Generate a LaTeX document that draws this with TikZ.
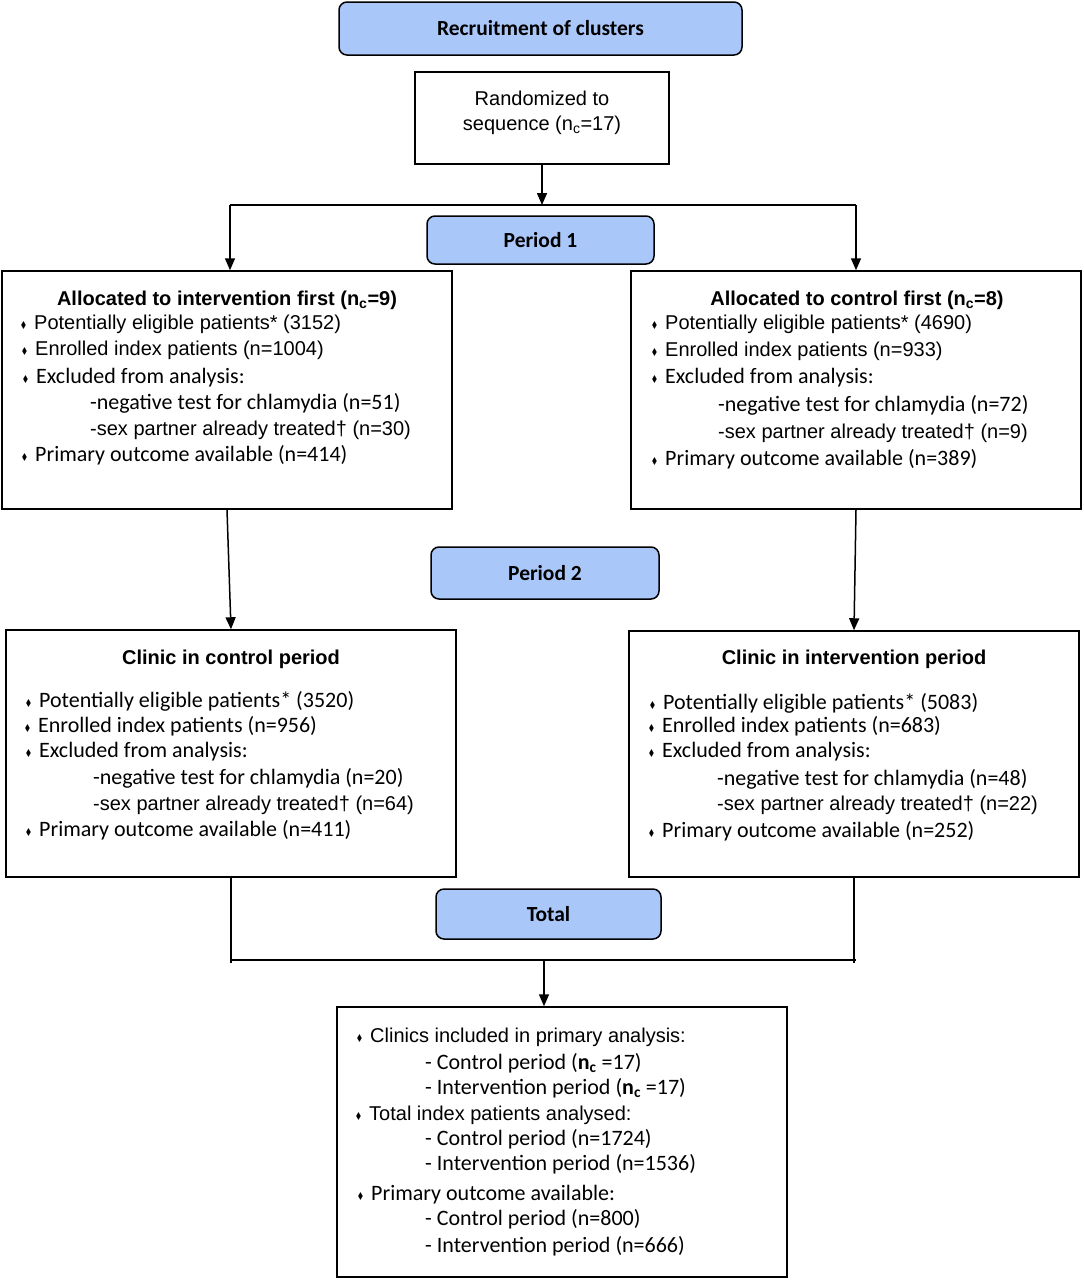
\documentclass[tikz,border=0pt]{standalone}
\usepackage{fontspec}
\setmainfont{Liberation Sans}
\newfontfamily\fArial{Liberation Sans}
\newfontfamily\fCal{Carlito}
\newfontfamily\fDV{DejaVu Sans}
\usetikzlibrary{arrows.meta}
\definecolor{pillblue}{RGB}{170,199,250}
\newcommand{\AR}{\fArial\fontsize{20}{24}\selectfont}
\newcommand{\CA}{\fCal\fontsize{22}{26}\selectfont}
\newcommand{\bul}{\llap{\scalebox{0.75}[1]{\fDV\fontsize{11}{11}\selectfont ♦}\hspace{7pt}}}
\tikzset{
  box/.style={draw, line width=1.5pt, inner sep=0pt},
  pill/.style={draw, line width=1.5pt, rounded corners=8pt, fill=pillblue, inner sep=0pt,
    font=\fCal\bfseries\fontsize{21.5}{24}\selectfont},
  hd/.style={anchor=mid, inner sep=0pt, yshift=-5pt, font=\fArial\bfseries\fontsize{20}{24}\selectfont},
  ar/.style={anchor=mid west, inner sep=0pt, yshift=-5pt, font=\AR},
  arc/.style={anchor=mid, inner sep=0pt, yshift=-5pt, font=\AR},
  ca/.style={anchor=mid west, inner sep=0pt, yshift=-5pt, font=\CA},
  ln/.style={line width=1.5pt},
  arr/.style={line width=1.5pt, -{Triangle[length=12pt,width=10pt]}}
}
\begin{document}
\begin{tikzpicture}[x=1pt,y=-1pt]
\useasboundingbox (0,0) rectangle (1084,1280);
% boxes
\node[pill, minimum width=403pt, minimum height=53pt] (rec) at (540.5,28.5) {Recruitment of clusters};
\node[box, minimum width=254pt, minimum height=92pt] (rand) at (542,118) {};
\node[arc] (r1) at (542,98) {Randomized to};
\node[arc] (r2) at (542,123) {sequence (n\textsubscript{c}=17)};
\node[pill, minimum width=227pt, minimum height=48pt] (p1) at (540.5,240) {Period 1};
\node[box, minimum width=450pt, minimum height=238pt] (b1L) at (227,390) {};
\node[box, minimum width=450pt, minimum height=238pt] (b1R) at (856,390) {};
\node[pill, minimum width=228pt, minimum height=52pt] (p2) at (545,573) {Period 2};
\node[box, minimum width=450pt, minimum height=247pt] (b2L) at (231,753.5) {};
\node[box, minimum width=450pt, minimum height=246pt] (b2R) at (854,754) {};
\node[pill, minimum width=225pt, minimum height=50pt] (tot) at (548.5,914) {Total};
\node[box, minimum width=450pt, minimum height=270pt] (bot) at (562,1142) {};

% left box 1
\node[hd] (h1L) at (227,298) {Allocated to intervention first (n\textsubscript{c}=9)};
\node[ar] (a1) at (34,322) {\bul Potentially eligible patients* (3152)};
\node[ar] (a2) at (35,348) {\bul Enrolled index patients (n=1004)};
\node[ca] (a3) at (36,376) {\bul Excluded from analysis:};
\node[ca] (a4) at (90,402) {-negative test for chlamydia (n=51)};
\node[ar] (a5) at (90,428) {-sex partner already treated† (n=30)};
\node[ca] (a6) at (35,454) {\bul Primary outcome available (n=414)};

% right box 1
\node[hd] (h1R) at (857,298) {Allocated to control first (n\textsubscript{c}=8)};
\node[ar] (c1) at (665,322) {\bul Potentially eligible patients* (4690)};
\node[ar] (c2) at (665,349) {\bul Enrolled index patients (n=933)};
\node[ca] (c3) at (665,376) {\bul Excluded from analysis:};
\node[ca] (c4) at (718,404) {-negative test for chlamydia (n=72)};
\node[ar] (c5) at (718,431) {-sex partner already treated† (n=9)};
\node[ca] (c6) at (665,458) {\bul Primary outcome available (n=389)};

% left box 2
\node[hd] (h2L) at (231,657) {Clinic in control period};
\node[ca] (d1) at (39,700) {\bul Potentially eligible patients* (3520)};
\node[ca] (d2) at (38,725) {\bul Enrolled index patients (n=956)};
\node[ca] (d3) at (39,750) {\bul Excluded from analysis:};
\node[ca] (d4) at (93,777) {-negative test for chlamydia (n=20)};
\node[ar] (d5) at (93,803) {-sex partner already treated† (n=64)};
\node[ca] (d6) at (39,829) {\bul Primary outcome available (n=411)};

% right box 2
\node[hd] (h2R) at (854,657) {Clinic in intervention period};
\node[ca] (e1) at (663,702) {\bul Potentially eligible patients* (5083)};
\node[ca] (e2) at (662,725) {\bul Enrolled index patients (n=683)};
\node[ca] (e3) at (662,750) {\bul Excluded from analysis:};
\node[ca] (e4) at (717,778) {-negative test for chlamydia (n=48)};
\node[ar] (e5) at (717,803) {-sex partner already treated† (n=22)};
\node[ca] (e6) at (662,830) {\bul Primary outcome available (n=252)};

% bottom box
\node[ar] (f1) at (370,1035) {\bul Clinics included in primary analysis:};
\node[ca] (f2) at (425,1062) {- Control period (\textbf{n\textsubscript{c}} =17)};
\node[ca] (f3) at (425,1087) {- Intervention period (\textbf{n\textsubscript{c}} =17)};
\node[ar] (f4) at (369,1113) {\bul Total index patients analysed:};
\node[ca] (f5) at (425,1138) {- Control period (n=1724)};
\node[ca] (f6) at (425,1163) {- Intervention period (n=1536)};
\node[ca] (f7) at (371,1193) {\bul Primary outcome available:};
\node[ca] (f8) at (425,1218) {- Control period (n=800)};
\node[ca] (f9) at (425,1245) {- Intervention period (n=666)};

% connectors
\coordinate (j1) at (542,205);
\coordinate (jL) at (230,205);
\coordinate (jR) at (856,205);
\draw[arr] (rand.south) -- (j1);
\draw[ln] (jL) -- (jR);
\draw[arr] (jL) -- (jL |- b1L.north);
\draw[arr] (jR) -- (jR |- b1R.north);
\draw[arr] (b1L.south) -- (b2L.north);
\draw[arr] (b1R.south) -- (b2R.north);
\coordinate (kL) at (231,963);
\coordinate (kR) at (854,963);
\coordinate (hL) at (231,960);
\coordinate (hR) at (856,960);
\coordinate (kM) at (544,960);
\draw[ln] (b2L.south) -- (kL);
\draw[ln] (b2R.south) -- (kR);
\draw[ln] (hL) -- (hR);
\draw[arr] (kM) -- (kM |- bot.north);
\end{tikzpicture}
\end{document}
